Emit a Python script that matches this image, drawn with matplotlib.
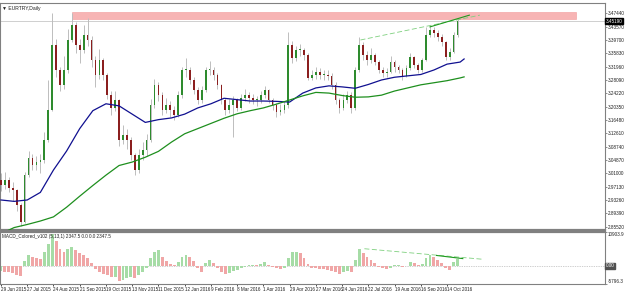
import numpy as np
import matplotlib
matplotlib.use("Agg")
import matplotlib.pyplot as plt
from matplotlib.patches import Rectangle

plt.rcParams.update({"font.family": "Liberation Sans", "font.size": 3.4})

# ---- data (one candle = 3 trading days, day index 0 = 29 Jun 2015) ----
close = [2.977, 2.991, 2.968, 2.962, 2.919, 2.869, 3.006, 3.055, 3.035, 3.043,
         3.049, 3.107, 3.194, 3.383, 3.310, 3.267, 3.310, 3.397, 3.441, 3.383,
         3.368, 3.412, 3.397, 3.339, 3.296, 3.339, 3.296, 3.238, 3.200, 3.223,
         3.107, 3.122, 3.107, 3.063, 3.020, 3.063, 3.078, 3.107, 3.209, 3.267,
         3.238, 3.194, 3.209, 3.194, 3.180, 3.238, 3.310, 3.310, 3.281, 3.252,
         3.223, 3.252, 3.310, 3.310, 3.296, 3.267, 3.223, 3.194, 3.209, 3.223,
         3.200, 3.229, 3.238, 3.229, 3.223, 3.223, 3.238, 3.252, 3.223, 3.209,
         3.188, 3.194, 3.209, 3.383, 3.345, 3.368, 3.368, 3.353, 3.287, 3.296,
         3.304, 3.296, 3.296, 3.293, 3.267, 3.223, 3.200, 3.223, 3.238, 3.200,
         3.310, 3.383, 3.353, 3.339, 3.353, 3.333, 3.310, 3.301, 3.304, 3.333,
         3.319, 3.310, 3.293, 3.316, 3.348, 3.324, 3.310, 3.339, 3.412, 3.426,
         3.417, 3.406, 3.391, 3.348, 3.362, 3.412, 3.452]
high = [3.010, 3.015, 3.000, 2.985, 2.965, 2.925, 3.015, 3.075, 3.065, 3.060,
        3.065, 3.130, 3.280, 3.475, 3.400, 3.320, 3.350, 3.430, 3.475, 3.450,
        3.400, 3.440, 3.461, 3.410, 3.350, 3.370, 3.345, 3.300, 3.250, 3.250,
        3.225, 3.150, 3.140, 3.115, 3.070, 3.080, 3.100, 3.125, 3.225, 3.285,
        3.275, 3.245, 3.230, 3.220, 3.205, 3.250, 3.320, 3.345, 3.320, 3.290,
        3.260, 3.265, 3.320, 3.335, 3.320, 3.300, 3.270, 3.230, 3.225, 3.235,
        3.230, 3.240, 3.255, 3.245, 3.240, 3.235, 3.250, 3.265, 3.255, 3.230,
        3.215, 3.210, 3.220, 3.420, 3.395, 3.380, 3.385, 3.375, 3.360, 3.310,
        3.320, 3.315, 3.310, 3.310, 3.300, 3.275, 3.230, 3.240, 3.250, 3.245,
        3.320, 3.405, 3.390, 3.365, 3.375, 3.360, 3.340, 3.320, 3.315, 3.350,
        3.340, 3.325, 3.315, 3.325, 3.360, 3.350, 3.330, 3.345, 3.435, 3.440,
        3.435, 3.425, 3.415, 3.395, 3.375, 3.420, 3.458]
low = [2.960, 2.965, 2.955, 2.930, 2.900, 2.858, 2.865, 3.000, 3.020, 3.020,
       3.010, 3.040, 3.100, 3.190, 3.290, 3.250, 3.255, 3.300, 3.390, 3.360,
       3.330, 3.360, 3.380, 3.320, 3.260, 3.285, 3.280, 3.225, 3.180, 3.190,
       3.090, 3.095, 3.080, 3.050, 3.005, 3.010, 3.050, 3.060, 3.100, 3.200,
       3.220, 3.180, 3.185, 3.175, 3.165, 3.175, 3.230, 3.290, 3.270, 3.240,
       3.210, 3.215, 3.245, 3.295, 3.280, 3.255, 3.210, 3.180, 3.185, 3.115,
       3.190, 3.195, 3.220, 3.215, 3.210, 3.205, 3.215, 3.230, 3.215, 3.195,
       3.175, 3.180, 3.185, 3.200, 3.330, 3.335, 3.350, 3.340, 3.280, 3.280,
       3.285, 3.285, 3.280, 3.280, 3.255, 3.210, 3.185, 3.195, 3.215, 3.185,
       3.195, 3.305, 3.340, 3.325, 3.330, 3.325, 3.300, 3.290, 3.290, 3.300,
       3.305, 3.300, 3.280, 3.290, 3.310, 3.315, 3.300, 3.305, 3.335, 3.405,
       3.405, 3.395, 3.380, 3.340, 3.340, 3.360, 3.405]
first_open = 2.990

macd = [-1500, -1800, -2000, -2200, -2800, -3200, 1500, 3500, 3000, 2500,
        2200, 4500, 7000, 10300, 8000, 5500, 4500, 5500, 6000, 5000,
        4000, 3500, 2500, 1000, -1000, -1800, -2500, -3000, -3500, -3500,
        -4800, -4500, -4000, -3500, -3800, -3000, -1800, -500, 2500, 4500,
        5000, 3000, 1500, 500, 300, 1200, 3000, 3500, 3000, 1500,
        -500, -1800, 1000, 2000, 1000, -800, -1800, -2500, -2300, -1500,
        -1200, -600, -200, 300, 400, 300, 700, 1200, 400, -400,
        -800, -900, -600, 2500, 4500, 4500, 4000, 2500, 500, -500,
        -800, -900, -1000, -1200, -1500, -2000, -2500, -2000, -1500, -1800,
        2000, 5300, 4200, 2800, 2000, 800, -300, -800, -900, -500,
        200, 300, -200, 100, 1200, 800, 200, 500, 2500, 3400,
        3000, 2000, 800, -800, -1300, 1200, 2300]

# moving averages, sampled every 10 bars
ma_days = list(range(0, 351, 10)) + [353]
ma_fast = [2.933, 2.929, 2.933, 2.955, 3.020, 3.075, 3.140, 3.192, 3.212, 3.206,
           3.182, 3.158, 3.166, 3.171, 3.182, 3.200, 3.212, 3.228, 3.224, 3.220,
           3.220, 3.219, 3.217, 3.243, 3.258, 3.264, 3.261, 3.257, 3.268, 3.281,
           3.289, 3.293, 3.297, 3.310, 3.327, 3.333, 3.342]
ma_slow = [2.835, 2.853, 2.862, 2.872, 2.884, 2.912, 2.944, 2.975, 3.005, 3.033,
           3.043, 3.057, 3.074, 3.101, 3.125, 3.140, 3.155, 3.170, 3.183, 3.192,
           3.200, 3.211, 3.223, 3.235, 3.245, 3.243, 3.236, 3.231, 3.232, 3.237,
           3.249, 3.258, 3.267, 3.273, 3.279, 3.287, 3.290]

date_labels = ["29 Jun 2015", "27 Jul 2015", "24 Aug 2015", "21 Sep 2015",
               "19 Oct 2015", "13 Nov 2015", "11 Dec 2015", "12 Jan 2016",
               "9 Feb 2016", "8 Mar 2016", "1 Apr 2016", "29 Apr 2016",
               "27 May 2016", "24 Jun 2016", "22 Jul 2016", "19 Aug 2016",
               "16 Sep 2016", "14 Oct 2016"]
price_ticks = [3.47440, 3.43570, 3.39700, 3.35830, 3.31960, 3.28090, 3.24220,
               3.20350, 3.16480, 3.12610, 3.08740, 3.04870, 3.01000, 2.97130,
               2.93260, 2.89390, 2.85520]
bid = 3.4519
zone = (54, 438, 3.458, 3.477)          # day from, day to, price lo, price hi
trend_dash = ([274, 365], [3.397, 3.469])
trend_solid = ([327, 357], [3.435, 3.469])
macd_dash = ([277, 367], [5530, 2157])
macd_solid = ([332, 352], [3370, 2360])
macd_lim = (-5796.3, 10903.9)

# ----------------------------------------------------------------------
W, H = 625, 291
fig = plt.figure(figsize=(W / 100, H / 100), dpi=100)
fig.patch.set_facecolor("white")


def frac(x0, y0, x1, y1):
    return [x0 / W, 1 - y1 / H, (x1 - x0) / W, (y1 - y0) / H]


ax = fig.add_axes(frac(0, 3, 605, 229.5))
sub = fig.add_axes(frac(0, 232, 605, 284))
XLIM = (-0.76, 460.4)

days = np.arange(len(close)) * 3
opens = [first_open] + close[:-1]
up_c, dn_c, wick_c = "#2e8b2e", "#8b1f1f", "#bdbdbd"

ax.add_patch(Rectangle((zone[0], zone[2]), zone[1] - zone[0], zone[3] - zone[2],
                       facecolor="#f7b4b4", edgecolor="#f29a9a", lw=0.4, zorder=1))
ax.axhline(bid, color="#c8c8c8", lw=0.6, zorder=1)
ax.vlines(days, low, high, color=wick_c, lw=0.7, zorder=2)
bot = np.minimum(opens, close)
hgt = np.maximum(np.abs(np.array(close) - np.array(opens)), 0.002)
cols = [up_c if c >= o else dn_c for o, c in zip(opens, close)]
ax.bar(days, hgt, bottom=bot, width=1.3, color=cols, zorder=3, linewidth=0)
ax.plot(ma_days, ma_fast, color="#101090", lw=0.9, zorder=4)
ax.plot(ma_days, ma_slow, color="#1e8f1e", lw=0.9, zorder=4)
ax.plot(*trend_dash, color="#7fd07f", lw=0.6, ls=(0, (6, 3)), zorder=5)
ax.plot(*trend_solid, color="#1f9a1f", lw=0.8, zorder=5)
ax.set_xlim(*XLIM)
ax.set_ylim(2.8474, 3.5043)

# MACD subwindow
mcols = ["#a6dca6" if (i == 0 or v >= macd[i - 1]) else "#f0a6a6"
         for i, v in enumerate(macd)]
sub.bar(days, macd, width=2.2, color=mcols, linewidth=0, zorder=2)
sub.axhline(0, color="#a0a0a0", lw=0.5, ls=(0, (1, 1.5)), zorder=1)
sub.plot(*macd_dash, color="#7fd07f", lw=0.6, ls=(0, (6, 3)), zorder=3)
sub.plot(*macd_solid, color="#1f9a1f", lw=0.8, zorder=3)
sub.set_xlim(*XLIM)
sub.set_ylim(*macd_lim)

for a in (ax, sub):
    a.set_facecolor("white")
    for s in a.spines.values():
        s.set_color("#808080")
        s.set_linewidth(0.8)
    a.yaxis.tick_right()
    a.tick_params(axis="y", length=1.5, width=0.5, color="#606060", pad=0.6,
                  labelsize=3.3, labelcolor="#202020")
    a.tick_params(axis="x", length=0, labelbottom=False)
ax.spines["bottom"].set_linewidth(1.6)
sub.spines["top"].set_linewidth(1.6)

ax.set_yticks(price_ticks)
ax.set_yticklabels([f"{t:.5f}" for t in price_ticks])
sub.set_yticks(list(macd_lim))
sub.set_yticklabels([f"{v:.1f}" for v in macd_lim])
for lbl, va in zip(sub.get_yticklabels(), ["bottom", "top"]):
    lbl.set_verticalalignment(va)

sub.set_xticks(np.arange(len(date_labels)) * 20)
sub.set_xticklabels(date_labels)
sub.tick_params(axis="x", labelbottom=True, length=1.5, width=0.5, pad=0.4,
                labelsize=3.3, labelcolor="#202020", direction="out")
for lbl in sub.get_xticklabels():
    lbl.set_horizontalalignment("left")

# price and zero-level boxes on the scale
ax.text(1.001, bid, f"{bid:.5f}", transform=ax.get_yaxis_transform(),
        fontsize=3.3, color="white", va="center", ha="left",
        bbox=dict(boxstyle="square,pad=0.12", fc="black", ec="black"))
sub.text(1.001, 0, "0.00", transform=sub.get_yaxis_transform(),
         fontsize=3.3, color="white", va="center", ha="left",
         bbox=dict(boxstyle="square,pad=0.12", fc="#505050", ec="#505050"))

ax.text(0.004, 0.985, "\u25bc EURTRY,Daily", transform=ax.transAxes,
        fontsize=3.6, va="top", ha="left", color="#202020")
sub.text(0.004, 0.96, "MACD_Colored_v102 (5,13,1) 2347.5 0.0 0.0 2347.5",
         transform=sub.transAxes, fontsize=3.3, va="top", ha="left",
         color="#202020")

fig.savefig("out.png", dpi=100)
